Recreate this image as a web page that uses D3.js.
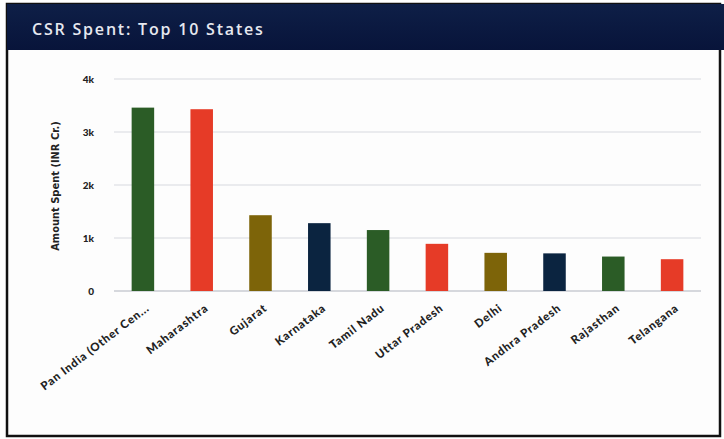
<!DOCTYPE html>
<html>
<head>
<meta charset="utf-8">
<script src="https://cdn.jsdelivr.net/npm/d3@7"></script>
<style>
  body { margin: 0; background: #ffffff; }
  svg { display: block; }
</style>
</head>
<body>
<svg id="grafico" width="724" height="439"></svg>
<script>
// dados
const estados = ["Pan India (Other Cen...", "Maharashtra", "Gujarat", "Karnataka", "Tamil Nadu",
                 "Uttar Pradesh", "Delhi", "Andhra Pradesh", "Rajasthan", "Telangana"];
const valores = [3460, 3430, 1430, 1280, 1150, 890, 720, 710, 650, 600];
const coresBarras = ["#2b5c26", "#e63b27", "#7d6409", "#0b2440", "#2b5c26",
                     "#e63b27", "#7d6409", "#0b2440", "#2b5c26", "#e63b27"];
const ticksY = [0, 1000, 2000, 3000, 4000];
const titulo = "CSR Spent: Top 10 States";
const tituloEixoY = "Amount Spent (INR Cr.)";

var svg = d3.select("#grafico"),
    width = +svg.attr("width"),
    height = +svg.attr("height");

// moldura
svg.append("rect")
    .attr("x", 7).attr("y", 4)
    .attr("width", 713).attr("height", 432)
    .attr("fill", "#fdfdfd")
    .attr("stroke", "#111")
    .attr("stroke-width", 2.5);

// cabeçalho
var grad = svg.append("defs").append("linearGradient")
    .attr("id", "gradCab").attr("x1", 0).attr("x2", 0).attr("y1", 0).attr("y2", 1);
grad.append("stop").attr("offset", "0%").attr("stop-color", "#0e1f47");
grad.append("stop").attr("offset", "100%").attr("stop-color", "#08143a");

svg.append("rect")
    .attr("x", 7).attr("y", 4)
    .attr("width", width - 7).attr("height", 46)
    .attr("fill", "url(#gradCab)");

svg.append("text")
    .attr("x", 32)
    .attr("y", 35)
    .attr("fill", "#e6e8ef")
    .style("font-family", "'Open Sans', sans-serif")
    .style("font-size", "16px")
    .style("font-weight", "600")
    .style("letter-spacing", "1.8px")
    .text(titulo);

var margem = { left: 114, right: 23, top: 79, bottom: 148 };

var x = d3.scaleBand()
    .domain(estados)
    .range([margem.left, width - margem.right])
    .paddingInner(0.617)
    .paddingOuter(0.3);

var y = d3.scaleLinear()
    .domain([0, 4000])
    .range([height - margem.bottom, margem.top]);

// linhas de grade
svg.append("g")
    .selectAll("line")
    .data(ticksY)
    .enter()
    .append("line")
    .attr("x1", margem.left)
    .attr("x2", width - margem.right)
    .attr("y1", d => y(d))
    .attr("y2", d => y(d))
    .attr("stroke", d => d === 0 ? "#c8cbd2" : "#e3e5e8")
    .attr("stroke-width", 1.5);

// eixo y
var eixoY = svg.append("g")
    .attr("transform", "translate(97,0)")
    .call(d3.axisLeft(y).tickValues(ticksY).tickSize(0)
        .tickFormat(d => d === 0 ? "0" : d3.format("~s")(d)));
eixoY.select(".domain").remove();
eixoY.selectAll("text")
    .attr("fill", "#222")
    .style("font-family", "Lato, sans-serif")
    .style("font-size", "10px")
    .style("font-weight", "900");

svg.append("text")
    .attr("transform", "translate(59," + (y(2000) + 1) + ") rotate(-90)")
    .attr("text-anchor", "middle")
    .attr("fill", "#222")
    .style("font-family", "'Liberation Sans Narrow', 'DejaVu Sans Condensed', sans-serif")
    .style("font-size", "11px")
    .style("font-weight", "bold")
    .text(tituloEixoY);

// barras
svg.append("g")
    .selectAll("rect")
    .data(valores)
    .enter()
    .append("rect")
    .attr("x", (d, i) => x(estados[i]))
    .attr("y", d => y(d))
    .attr("width", x.bandwidth())
    .attr("height", d => y(0) - y(d))
    .attr("fill", (d, i) => coresBarras[i]);

// eixo x
var eixoX = svg.append("g")
    .attr("transform", "translate(0," + (y(0) + 6) + ")")
    .call(d3.axisBottom(x).tickSize(0));
eixoX.select(".domain").remove();
eixoX.selectAll("text")
    .attr("fill", "#222")
    .attr("text-anchor", "end")
    .attr("dy", "0.35em")
    .attr("transform", "translate(3,7) rotate(-37.5)")
    .style("font-family", "Lato, sans-serif")
    .style("font-size", "11.5px")
    .style("font-weight", "900")
    .style("letter-spacing", "0.8px");
</script>
</body>
</html>
